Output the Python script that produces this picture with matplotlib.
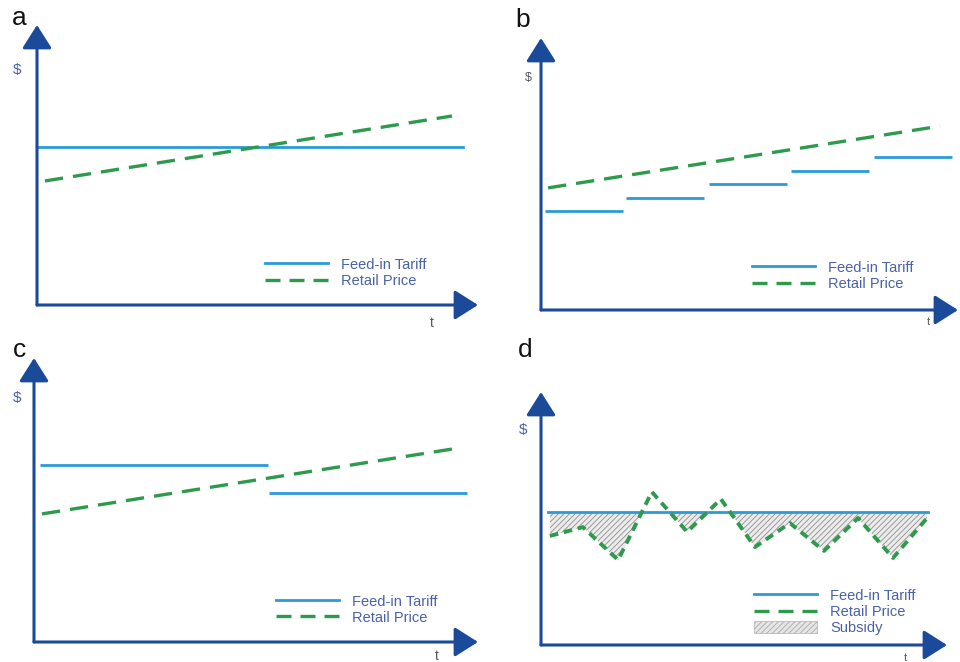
import numpy as np
import matplotlib
matplotlib.use("Agg")
import matplotlib.pyplot as plt
from matplotlib.lines import Line2D
from matplotlib.patches import Patch

plt.rcParams['font.family'] = ['Liberation Sans', 'DejaVu Sans']
plt.rcParams['hatch.linewidth'] = 0.7
plt.rcParams['hatch.color'] = '#9a9a9a'

# data in arbitrary units: t and $ both run 0..10 from origin to arrow tip
a_tariff_t = [0.0, 9.65]
a_tariff = [5.64, 5.64]
a_retail_t = [0.18, 9.41]
a_retail = [4.43, 6.75]

b_step_start = [0.10, 2.05, 4.03, 5.99, 7.99]
b_step_end = [1.97, 3.91, 5.89, 7.87, 9.86]
b_step_value = [3.64, 4.12, 4.63, 5.11, 5.63]
b_retail_t = [0.17, 9.57]
b_retail = [4.49, 6.76]

c_step_start = [0.14, 5.29]
c_step_end = [5.27, 9.75]
c_step_value = [6.23, 5.25]
c_retail_t = [0.18, 9.44]
c_retail = [4.51, 6.80]

d_tariff_t = [0.17, 9.53]
d_tariff = 5.26
d_retail_t = [0.22, 1.03, 1.90, 2.73, 3.60, 4.43, 5.27, 6.13, 6.97, 7.81, 8.67, 9.51]
d_retail = [4.31, 4.66, 3.36, 6.05, 4.47, 5.77, 3.87, 4.82, 3.72, 5.02, 3.44, 5.02]

legend_labels = ["Feed-in Tariff", "Retail Price"]

AXIS = '#1b4a9a'
BLUE = '#2b9bd8'
GREEN = '#2e9a4c'
TXT = '#4862a6'

W, H = 960, 662
fig = plt.figure(figsize=(W / 100, H / 100), dpi=100)


def panel(x0, y0, x1, y1):
    # origin (x0, y0) and arrow tips (x1, y1) in pixels
    ax = fig.add_axes([x0 / W, (H - y0) / H, (x1 - x0) / W, (y0 - y1) / H])
    ax.set_xlim(0, 10)
    ax.set_ylim(0, 10)
    ax.axis('off')
    style = '-|>,head_length=0.6,head_width=0.38'
    for tip in [(1, 0), (0, 1)]:
        ax.annotate('', xy=tip, xytext=(0, 0), xycoords='axes fraction',
                    arrowprops=dict(arrowstyle=style, color=AXIS, lw=2.2,
                                    mutation_scale=24, shrinkA=0, shrinkB=0),
                    annotation_clip=False)
    return ax


def ftext(x, y, s, **kw):
    fig.text(x / W, 1 - y / H, s, ha='center', va='center', **kw)


def add_legend(ax, x, y, subsidy=False):
    handles = [Line2D([], [], color=BLUE, lw=2.0),
               Line2D([], [], color=GREEN, lw=2.4, dashes=(4.5, 2.7))]
    labels = list(legend_labels)
    if subsidy:
        handles.append(Patch(facecolor='#e6e6e6', edgecolor='#b0b0b0',
                             hatch='//////', lw=0.5))
        labels.append("Subsidy")
    leg = ax.legend(handles, labels, loc='center left', bbox_to_anchor=(x, y),
                    frameon=False, fontsize=10.5, handlelength=4.3,
                    handletextpad=0.9, labelspacing=0.15, borderpad=0,
                    borderaxespad=0, handleheight=0.9)
    for t in leg.get_texts():
        t.set_color(TXT)


# panel a
ax = panel(37, 305, 478, 25)
ax.plot(a_tariff_t, a_tariff, color=BLUE, lw=2.0)
ax.plot(a_retail_t, a_retail, color=GREEN, lw=2.4, dashes=(5.5, 3))
add_legend(ax, 0.517, 0.114)
ftext(19, 18, 'a', fontsize=19, color='#111111')
ftext(17, 70, '$', fontsize=11, color=TXT)
ftext(432, 323, 't', fontsize=10, color='#555566')

# panel b
ax = panel(541, 310, 958, 38)
ax.hlines(b_step_value, b_step_start, b_step_end, color=BLUE, lw=2.0)
ax.plot(b_retail_t, b_retail, color=GREEN, lw=2.4, dashes=(5.5, 3))
add_legend(ax, 0.506, 0.125)
ftext(523, 20, 'b', fontsize=19, color='#111111')
ftext(528, 78, '$', fontsize=9, color='#555566')
ftext(928, 322, 't', fontsize=8, color='#555566')

# panel c
ax = panel(34, 642, 478, 358)
ax.hlines(c_step_value, c_step_start, c_step_end, color=BLUE, lw=2.0)
ax.plot(c_retail_t, c_retail, color=GREEN, lw=2.4, dashes=(5.5, 3))
add_legend(ax, 0.545, 0.114)
ftext(20, 350, 'c', fontsize=19, color='#111111')
ftext(17, 398, '$', fontsize=11, color=TXT)
ftext(437, 656, 't', fontsize=10, color='#555566')

# panel d
ax = panel(541, 645, 947, 392)
ax.fill_between(d_retail_t, d_retail, d_tariff,
                where=np.array(d_retail) < d_tariff, interpolate=True,
                facecolor='#ececec', edgecolor='#9a9a9a', hatch='//////', lw=0)
ax.plot(d_tariff_t, [d_tariff, d_tariff], color=BLUE, lw=2.0)
ax.plot(d_retail_t, d_retail, color=GREEN, lw=2.8, dashes=(2.2, 1.5))
add_legend(ax, 0.525, 0.130, subsidy=True)
ftext(525, 350, 'd', fontsize=19, color='#111111')
ftext(523, 430, '$', fontsize=11, color=TXT)
ftext(905, 658, 't', fontsize=8, color='#555566')

fig.savefig('out.png', dpi=100)
